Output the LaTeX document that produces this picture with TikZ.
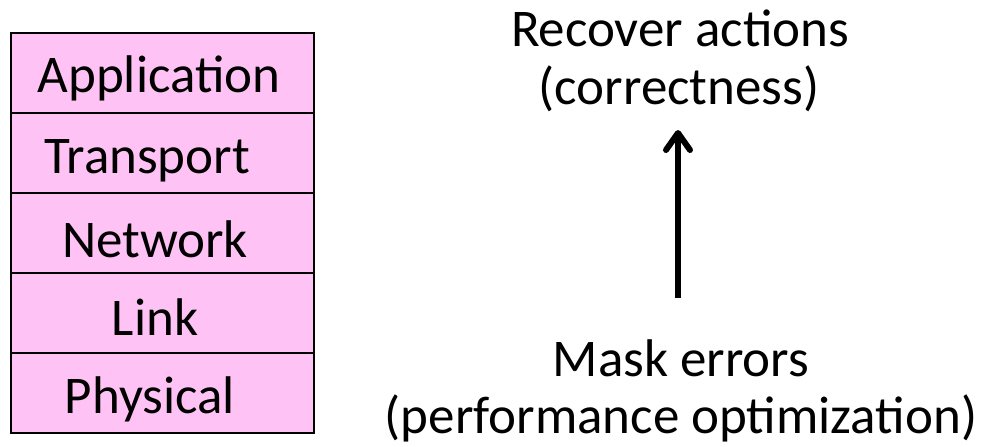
\documentclass[tikz,border=0pt]{standalone}
\usepackage{fontspec}
\setmainfont{Carlito}
\usetikzlibrary{arrows.meta}
\definecolor{layerpink}{RGB}{255,194,245}
\begin{document}
\begin{tikzpicture}[x=1pt,y=-1pt,
  layer/.style={draw=black, line width=2pt, fill=layerpink, minimum width=303pt, minimum height=80pt, inner sep=0pt, anchor=north west},
  lbl/.style={anchor=base, inner sep=0pt, font=\fontsize{53}{58}\selectfont},
  bigarrow/.style={line width=6pt, -{Straight Barb[length=17pt, width=24pt, round]}},
]
\useasboundingbox (0,0) rectangle (983,447);
\node[layer] (b1) at (10,32) {};
\node[layer] (b2) at (10,112) {};
\node[layer] (b3) at (10,192) {};
\node[layer] (b4) at (10,272) {};
\node[layer] (b5) at (10,352) {};
\node[lbl] (t1) at (159,92) {Application};
\node[lbl] (t2) at (147,173) {Transport};
\node[lbl] (t3) at (155,257) {Network};
\node[lbl] (t4) at (155,335) {Link};
\node[lbl] (t5) at (150,413) {Physical};
\node[lbl] (top1) at (680,46.5) {Recover actions};
\node[lbl] (top2) at (679,104.5) {(correctness)};
\node[lbl] (bot1) at (681,376) {Mask errors};
\node[lbl] (bot2) at (681,433) {(performance optimization)};
\coordinate (as) at (678,298);
\coordinate (ae) at (678,130);
\draw[bigarrow] (as) -- (ae);
\end{tikzpicture}
\end{document}
